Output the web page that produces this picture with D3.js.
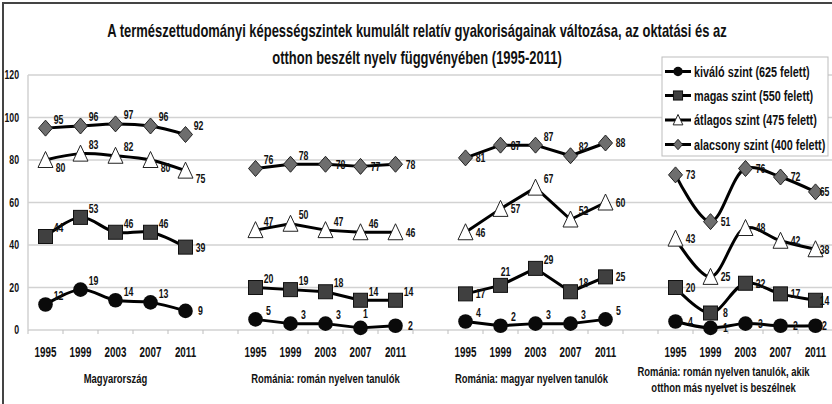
<!DOCTYPE html>
<html><head><meta charset="utf-8">
<script src="https://cdn.jsdelivr.net/npm/d3@7"></script>
<style>
html,body{margin:0;padding:0;background:#fff;}
svg{display:block;}
text{font-family:"Liberation Sans",Arial,sans-serif;font-weight:bold;fill:#111;}
</style></head><body>
<svg id="chart" width="832" height="404"></svg>
<script>
// ---------------- DATA ----------------
const titleLines = ["A természettudományi képességszintek kumulált relatív gyakoriságainak változása, az oktatási és az",
                    "otthon beszélt nyelv függvényében (1995-2011)"];
const years = ["1995","1999","2003","2007","2011"];
const groupLabels = [["Magyarország"],
                     ["Románia: román nyelven tanulók"],
                     ["Románia: magyar nyelven tanulók"],
                     ["Románia: román nyelven tanulók, akik","otthon más nyelvet is beszélnek"]];
const seriesNames = ["kiváló szint (625 felett)","magas szint (550 felett)","átlagos szint (475 felett)","alacsony szint (400 felett)"];
const yTicks = [0,20,40,60,80,100,120];
const kivalo   = [[12,19,14,13,9],[5,3,3,1,2],[4,2,3,3,5],[4,1,3,2,2]];
const magas    = [[44,53,46,46,39],[20,19,18,14,14],[17,21,29,18,25],[20,8,22,17,14]];
const atlagos  = [[80,83,82,80,75],[47,50,47,46,46],[46,57,67,52,60],[43,25,48,42,38]];
const alacsony = [[95,96,97,96,92],[76,78,78,77,78],[81,87,87,82,88],[73,51,76,72,65]];

// ---------------- LAYOUT ----------------
const W = 832, H = 404;
const labelPos = [
  ["uuuur","uuuar","uuuuu","rrrre"],
  ["uuuur","uuuuu","rauur","rrrre"],
  ["duudd","uuuur","rruur","rrrre"],
  ["uuuuu","uurrr","rruur","rrrre"]
];
const offs = {u:[13,-9], r:[15,0], d:[15,8], a:[5,-14], e:[9,0]};
const smoothGroups = [true,false,false,true];
const groupLabelDx = [0,0,-4,-22];
const SX = 0.70;

const svg = d3.select("#chart");
svg.append("rect").attr("width",W).attr("height",H).attr("fill","#fff");

function txt(parent, x, y, s, size, anchor, sx) {
  return parent.append("text")
    .attr("transform", `translate(${x},${y}) scale(${sx||SX},1)`)
    .attr("font-size", size).attr("text-anchor", anchor||"start").text(s);
}

// categories: groups of years separated by blank slots
const cats = [];
groupLabels.forEach((g,gi) => {
  if (gi > 0) cats.push("blank" + gi);
  years.forEach(y => cats.push(gi + "-" + y));
});
const x = d3.scaleBand().domain(cats).range([28, 833]).padding(0);
const cx = k => x(k) + x.bandwidth()/2;
const y = d3.scaleLinear().domain([0,120]).range([330,75]);

// frame
svg.append("path").attr("d","M3,404 L3,3 L832,3").attr("fill","none").attr("stroke","#444").attr("stroke-width",2);

// gridlines
const grid = svg.append("g");
grid.selectAll("line").data(yTicks).join("line")
  .attr("x1",28).attr("x2",W).attr("y1",d=>y(d)).attr("y2",d=>y(d))
  .attr("stroke","#d2d2d2").attr("stroke-width",1.5);
svg.append("line").attr("x1",28).attr("x2",28).attr("y1",y(120)).attr("y2",y(0)).attr("stroke","#d2d2d2").attr("stroke-width",1.5);
// category ticks
const edges = cats.map(c => x(c)).concat([x(cats[cats.length-1]) + x.bandwidth()]);
svg.append("g").selectAll("line").data(edges).join("line")
  .attr("x1",d=>d).attr("x2",d=>d).attr("y1",y(0)).attr("y2",y(0)+4)
  .attr("stroke","#bdbdbd").attr("stroke-width",1);

// y tick labels
yTicks.forEach(t => txt(svg, 19, y(t), t, 12.5, "end").attr("dy","0.35em"));

// year labels & group labels
groupLabels.forEach((lines,gi) => {
  years.forEach(yr => txt(svg, cx(gi+"-"+yr), 357, yr, 14, "middle"));
  const gc = (cx(gi+"-"+years[0]) + cx(gi+"-"+years[years.length-1]))/2 + groupLabelDx[gi];
  if (lines.length === 1) txt(svg, gc, 383, lines[0], 13.5, "middle");
  else lines.forEach((l,li) => txt(svg, gc, 376 + li*15.5, l, 13.5, "middle"));
});

// title
const tg = svg.append("g");
const t1 = txt(tg, 417, 37, titleLines[0], 18, "middle", 1);
const natural = t1.node().getComputedTextLength();
const tsx = 620 / natural;
t1.attr("transform", `translate(417,37) scale(${tsx},1)`);
txt(tg, 417, 64, titleLines[1], 18, "middle", tsx);

// markers
const markers = [
  (g,s) => g.append("circle").attr("r",7.3*s).attr("fill","#0a0a0a"),
  (g,s) => g.append("rect").attr("x",-7*s).attr("y",-7*s).attr("width",14*s).attr("height",14*s).attr("fill","#404040").attr("stroke","#111").attr("stroke-width",1),
  (g,s) => g.append("path").attr("d",`M0,${-8.5*s} L${7.5*s},${7.5*s} L${-7.5*s},${7.5*s} Z`).attr("fill","#fff").attr("stroke","#222").attr("stroke-width",1),
  (g,s) => g.append("path").attr("d",`M0,${-8*s} L${7*s},0 L0,${8*s} L${-7*s},0 Z`).attr("fill","#6e6e6e").attr("stroke","#222").attr("stroke-width",1)
];

const allSeries = [kivalo, magas, atlagos, alacsony];
const plot = svg.append("g");
const labelsG = svg.append("g");
allSeries.forEach((ser, si) => {
  ser.forEach((vals, gi) => {
    const pts = vals.map((v,i) => ({x: cx(gi+"-"+years[i]), y: y(v), v, i}));
    const line = d3.line().x(d=>d.x).y(d=>d.y).curve(smoothGroups[gi] ? d3.curveCatmullRom.alpha(0.5) : d3.curveLinear);
    plot.append("path").attr("d", line(pts)).attr("fill","none").attr("stroke","#000").attr("stroke-width",3).attr("stroke-linejoin","round");
    pts.forEach(p => {
      const g = plot.append("g").attr("transform",`translate(${p.x},${p.y})`);
      markers[si](g,1);
    });
    pts.forEach(p => {
      const o = offs[labelPos[si][gi][p.i]];
      txt(labelsG, p.x + o[0], p.y + o[1], p.v, 12.5, "middle").attr("dy","0.35em");
    });
  });
});

// legend
const lg = svg.append("g");
lg.append("rect").attr("x",662).attr("y",57).attr("width",166).attr("height",99)
  .attr("fill","#fff").attr("stroke","#bdbdbd").attr("stroke-width",1);
const legY = [71.5, 95.5, 120, 144.5];
seriesNames.forEach((n,i) => {
  lg.append("line").attr("x1",665).attr("x2",691).attr("y1",legY[i]).attr("y2",legY[i]).attr("stroke","#000").attr("stroke-width",3);
  const g = lg.append("g").attr("transform",`translate(678,${legY[i]})`);
  markers[i](g,0.65);
  txt(lg, 694, legY[i], n, 15.5, "start").attr("dy","0.35em");
});
</script>
</body></html>
